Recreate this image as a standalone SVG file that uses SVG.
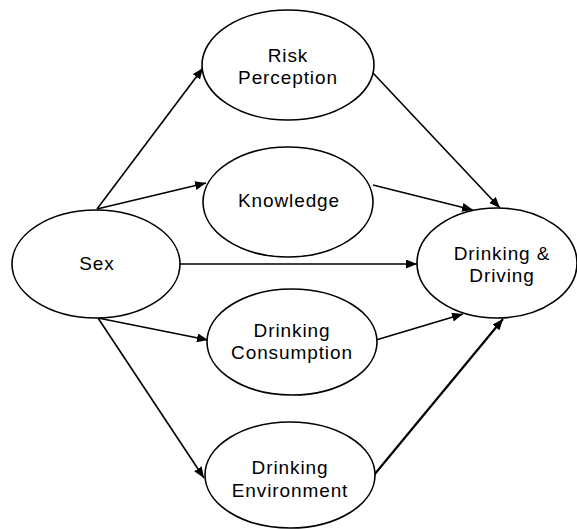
<svg xmlns="http://www.w3.org/2000/svg" width="577" height="529" viewBox="0 0 577 529">
<style>
.node ellipse{fill:#fff;stroke:#000;stroke-width:1.6}
.node text{font-family:"Liberation Sans",Arial,sans-serif;font-size:19px;letter-spacing:0.9px;text-anchor:middle;fill:#000}
.edges line{stroke:#000;stroke-width:1.6}
</style>
<defs>
<marker id="arr" markerUnits="userSpaceOnUse" markerWidth="12" markerHeight="10" refX="11" refY="4.5" orient="auto">
<path d="M0,0 L11,4.5 L0,9 Z" fill="#000"/>
</marker>
</defs>
<g class="edges">
<line x1="97" y1="209" x2="203" y2="68" marker-end="url(#arr)"/>
<line x1="97" y1="209" x2="206" y2="183" marker-end="url(#arr)"/>
<line x1="180" y1="264" x2="417" y2="264" marker-end="url(#arr)"/>
<line x1="98" y1="318" x2="208" y2="340" marker-end="url(#arr)"/>
<line x1="98" y1="318" x2="204" y2="478" marker-end="url(#arr)"/>
<line x1="373" y1="73" x2="500" y2="208" marker-end="url(#arr)"/>
<line x1="373" y1="185" x2="473" y2="210" marker-end="url(#arr)"/>
<line x1="376" y1="340" x2="463" y2="314" marker-end="url(#arr)"/>
<line x1="374" y1="475" x2="503" y2="319" marker-end="url(#arr)" style="stroke-width:2.2"/>
</g>
<g id="sex" class="node">
<ellipse cx="96" cy="264" rx="84" ry="54"/>
<text x="97" y="270">Sex</text>
</g>
<g id="risk" class="node">
<ellipse cx="288" cy="65" rx="86" ry="55"/>
<text x="288" y="62">Risk</text>
<text x="288" y="84">Perception</text>
</g>
<g id="knowledge" class="node">
<ellipse cx="288" cy="202" rx="85" ry="55"/>
<text x="289" y="207">Knowledge</text>
</g>
<g id="consumption" class="node">
<ellipse cx="292" cy="342" rx="85" ry="53"/>
<text x="292" y="337">Drinking</text>
<text x="292" y="359">Consumption</text>
</g>
<g id="environment" class="node">
<ellipse cx="290" cy="475" rx="85" ry="53"/>
<text x="290" y="474">Drinking</text>
<text x="290" y="497">Environment</text>
</g>
<g id="dd" class="node">
<ellipse cx="497" cy="263" rx="80" ry="55"/>
<text x="502" y="260">Drinking &amp;</text>
<text x="502" y="282">Driving</text>
</g>
</svg>
